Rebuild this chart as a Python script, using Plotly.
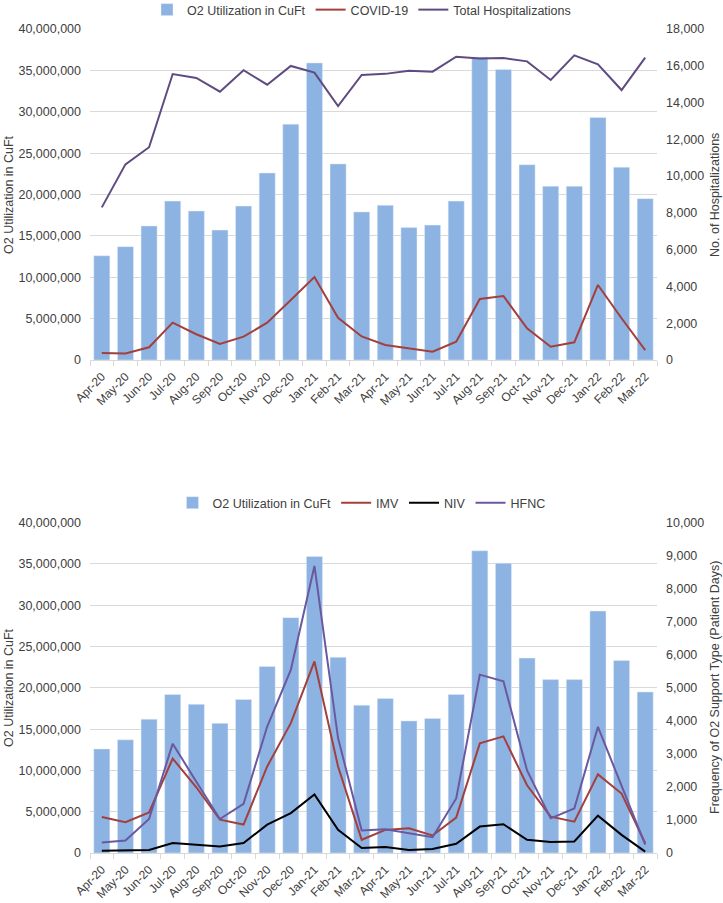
import plotly.graph_objects as go

months = ["Apr-20", "May-20", "Jun-20", "Jul-20", "Aug-20", "Sep-20", "Oct-20", "Nov-20",
          "Dec-20", "Jan-21", "Feb-21", "Mar-21", "Apr-21", "May-21", "Jun-21", "Jul-21",
          "Aug-21", "Sep-21", "Oct-21", "Nov-21", "Dec-21", "Jan-22", "Feb-22", "Mar-22"]

o2_cuft = [12600000, 13700000, 16200000, 19200000, 18000000, 15700000, 18600000, 22600000,
           28500000, 35900000, 23700000, 17900000, 18700000, 16000000, 16300000, 19200000,
           36600000, 35100000, 23600000, 21000000, 21000000, 29300000, 23300000, 19500000]

covid19 = [380, 360, 690, 2030, 1400, 870, 1270, 2030,
           3260, 4510, 2300, 1280, 820, 620, 450, 1000,
           3320, 3480, 1720, 725, 960, 4080, 2270, 540]

total_hosp = [8300, 10640, 11570, 15550, 15340, 14590, 15760, 14970,
              15990, 15630, 13810, 15500, 15560, 15730, 15680, 16490,
              16390, 16420, 16240, 15230, 16570, 16080, 14680, 16440]

imv = [1090, 930, 1230, 2860, 1990, 1010, 860, 2620,
       3930, 5800, 2620, 400, 700, 750, 530, 1070,
       3320, 3530, 2050, 1100, 950, 2380, 1800, 300]

niv = [70, 80, 90, 300, 250, 200, 300, 860,
       1210, 1770, 705, 150, 180, 90, 120, 280,
       800, 870, 400, 330, 350, 1130, 550, 40]

hfnc = [320, 380, 1030, 3310, 2160, 1030, 1490, 3830,
        5540, 8690, 3480, 680, 720, 600, 480, 1650,
        5400, 5200, 2500, 1050, 1350, 3820, 2050, 250]

W, H = 723, 903
PL, PR, PT, PB = 90, 657, 29, 853
PW, PH = PR - PL, PB - PT

BAR = "#8DB3E2"
RED = "#A33F3D"
PURPLE = "#5F4B82"
PURPLE2 = "#6A58A0"
TXT = "#404040"
GRID = "#D9D9D9"
FONT = "Liberation Sans, Arial, sans-serif"


def px_y(py):
    return (PB - py) / PH


fig = go.Figure()

# top chart
fig.add_trace(go.Bar(x=months, y=o2_cuft, name="O2 Utilization in CuFt", marker_color=BAR,
                     xaxis="x", yaxis="y", legend="legend"))
fig.add_trace(go.Scatter(x=months, y=covid19, name="COVID-19", mode="lines",
                         line=dict(color=RED, width=2), xaxis="x", yaxis="y2", legend="legend"))
fig.add_trace(go.Scatter(x=months, y=total_hosp, name="Total Hospitalizations", mode="lines",
                         line=dict(color=PURPLE, width=2), xaxis="x", yaxis="y2", legend="legend"))

# bottom chart
fig.add_trace(go.Bar(x=months, y=o2_cuft, name="O2 Utilization in CuFt", marker_color=BAR,
                     xaxis="x2", yaxis="y3", legend="legend2"))
fig.add_trace(go.Scatter(x=months, y=imv, name="IMV", mode="lines",
                         line=dict(color=RED, width=2), xaxis="x2", yaxis="y4", legend="legend2"))
fig.add_trace(go.Scatter(x=months, y=niv, name="NIV", mode="lines",
                         line=dict(color="#000000", width=2), xaxis="x2", yaxis="y4", legend="legend2"))
fig.add_trace(go.Scatter(x=months, y=hfnc, name="HFNC", mode="lines",
                         line=dict(color=PURPLE2, width=2), xaxis="x2", yaxis="y4", legend="legend2"))

top_dom = [px_y(360), 1]
bot_dom = [0, px_y(522.7)]

tickfont = dict(family=FONT, size=12.5, color=TXT)
xtickfont = dict(family=FONT, size=12, color=TXT)
titlefont = dict(family=FONT, size=12.5, color=TXT)

xcommon = dict(domain=[0, 1], tickangle=-45, tickfont=xtickfont, showgrid=False,
               showline=True, linecolor=GRID, linewidth=1, ticks="outside",
               tickson="boundaries", ticklen=5, tickcolor=GRID, type="category",
               automargin=False, ticklabelstandoff=4)
yleft = dict(range=[0, 40000000], dtick=5000000, tickformat=",d", tickfont=tickfont,
             showgrid=True, gridcolor=GRID, gridwidth=1, zeroline=False, showline=False,
             ticks="", ticklabelstandoff=8, automargin=False)
yright = dict(tickformat=",d", tickfont=tickfont, side="right", showgrid=False,
              zeroline=False, ticks="", ticklabelstandoff=8, automargin=False)

legfont = dict(family=FONT, size=12.5, color=TXT)

ann = dict(xref="paper", yref="paper", textangle=-90, showarrow=False, font=titlefont,
           xanchor="center", yanchor="middle")

fig.update_layout(
    width=W, height=H,
    margin=dict(l=PL, r=W - PR, t=PT, b=H - PB, autoexpand=False),
    paper_bgcolor="white", plot_bgcolor="white",
    font=dict(family=FONT, size=12.5, color=TXT),
    bargap=0.32,
    showlegend=True,
    xaxis=dict(**xcommon, anchor="y"),
    yaxis=dict(**yleft, domain=top_dom, anchor="x"),
    yaxis2=dict(**yright, range=[0, 18000], dtick=2000, overlaying="y", anchor="x"),
    xaxis2=dict(**xcommon, anchor="y3"),
    yaxis3=dict(**yleft, domain=bot_dom, anchor="x2"),
    yaxis4=dict(**yright, range=[0, 10000], dtick=1000, overlaying="y3", anchor="x2"),
    legend=dict(orientation="h", x=0.5, xref="container", xanchor="center",
                y=1 - 10 / H, yref="container", yanchor="middle",
                font=legfont, bgcolor="rgba(0,0,0,0)", itemwidth=30, tracegroupgap=0),
    legend2=dict(orientation="h", x=0.5, xref="container", xanchor="center",
                 y=1 - 503 / H, yref="container", yanchor="middle",
                 font=legfont, bgcolor="rgba(0,0,0,0)", itemwidth=30, tracegroupgap=0),
    annotations=[
        dict(text="O2 Utilization in CuFt", x=0, xshift=9 - PL, y=px_y(195), **ann),
        dict(text="No. of Hospitalizations", x=1, xshift=715 - PR, y=px_y(195), **ann),
        dict(text="O2 Utilization in CuFt", x=0, xshift=9 - PL, y=px_y(688), **ann),
        dict(text="Frequency of O2 Support Type (Patient Days)", x=1, xshift=715 - PR,
             y=px_y(688), **ann),
    ],
)

fig.write_html("out.html", config={"displayModeBar": False},
               post_script="document.body.style.margin='0';document.body.style.overflow='hidden';")
